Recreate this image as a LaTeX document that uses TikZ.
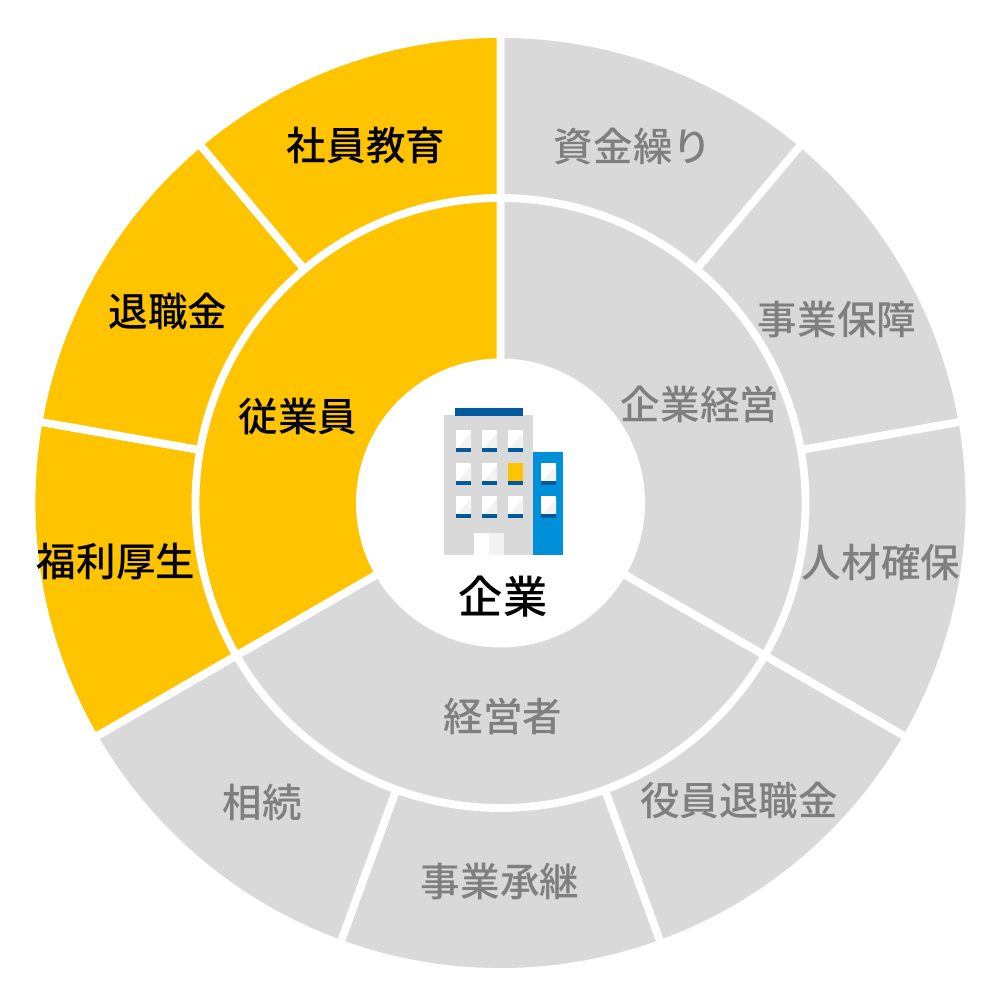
\documentclass[tikz,border=0pt]{standalone}
\usepackage{fontspec}
\setmainfont{Noto Sans CJK JP Medium}
\definecolor{ringyellow}{HTML}{FFC400}
\definecolor{ringgray}{HTML}{D9D9D9}
\definecolor{labelgray}{HTML}{7F7F7F}
\definecolor{icongray}{HTML}{D9D9D9}
\definecolor{iconblue}{HTML}{0090DA}
\definecolor{icondark}{HTML}{005A9C}
\tikzset{
  sector/.style={draw=white,line width=0.078cm},
  graylabel/.style={text=labelgray,font=\fontsize{11.25pt}{13pt}\selectfont,inner sep=0pt},
  yellowlabel/.style={text=black,font=\fontsize{11.25pt}{13pt}\selectfont,inner sep=0pt}
}
\begin{document}
\begin{tikzpicture}
  \useasboundingbox (0,0) rectangle (10,10);
  \fill[white] (0,0) rectangle (10,10);

  \begin{scope}[shift={(5.005,4.97)}]
    % outer ring
    \foreach \a/\b/\c in {50/90/ringgray,10/50/ringgray,-30/10/ringgray,-70/-30/ringgray,-110/-70/ringgray,-150/-110/ringgray,170/210/ringyellow,130/170/ringyellow,90/130/ringyellow}
      \filldraw[sector,fill=\c] (0,0) -- (\a:4.69) arc[start angle=\a,end angle=\b,radius=4.69] -- cycle;
    % inner ring
    \foreach \a/\b/\c in {-30/90/ringgray,210/330/ringgray,90/210/ringyellow}
      \filldraw[sector,fill=\c] (0,0) -- (\a:3.05) arc[start angle=\a,end angle=\b,radius=3.05] -- cycle;
    \fill[white] (0,0) circle (1.445);
  \end{scope}

  % building, pixel coordinates of the icon
  \begin{scope}[x=0.01cm,y=-0.01cm,yshift=10cm]
    \fill[icongray] (444,415) rectangle (533,555);
    \fill[icondark] (455,408) rectangle (523,416);
    \fill[iconblue] (533,452) rectangle (563.5,555);
    \foreach \wx/\wy in {456/430,482/430,508/430,456/463,482/463,456/496,482/496,508/496,541/463,541/496} {
      \fill[white] (\wx,\wy) rectangle ++(15.5,18);
      \fill[white!95!black] (\wx+15.5,\wy+3) -- ++(0,15) -- ++(-13,0) -- cycle;
      \fill[icondark] (\wx,\wy+18) rectangle ++(15.5,4.5);
    }
    \fill[ringyellow] (508,463) rectangle ++(15.5,18);
    \fill[icondark] (508,481) rectangle ++(15.5,4.5);
    \fill[white] (474,533) rectangle (489,555);
    \fill[white!95!black] (489,533) rectangle (504,555);
  \end{scope}

  \node[graylabel] (shikin) at (6.33,8.53) {資金繰り};
  \node[graylabel] (hosho) at (8.37,6.80) {事業保障};
  \node[graylabel] (jinzai) at (8.81,4.38) {人材確保};
  \node[graylabel] (yakuin) at (7.39,2.00) {役員退職金};
  \node[graylabel] (shokei) at (5.00,1.18) {事業承継};
  \node[graylabel] (sozoku) at (2.62,1.98) {相続};
  \node[yellowlabel] (fukuri) at (1.16,4.38) {福利厚生};
  \node[yellowlabel] (taishoku) at (1.68,6.89) {退職金};
  \node[yellowlabel] (kyoiku) at (3.66,8.54) {社員教育};
  \node[graylabel] (keiei) at (7.00,5.96) {企業経営};
  \node[graylabel] (keieisha) at (5.03,2.84) {経営者};
  \node[yellowlabel] (jugyoin) at (2.98,5.83) {従業員};
  \node[yellowlabel,font=\fontsize{12.6pt}{14pt}\selectfont] (kigyo) at (5.03,4.03) {企業};
\end{tikzpicture}
\end{document}
